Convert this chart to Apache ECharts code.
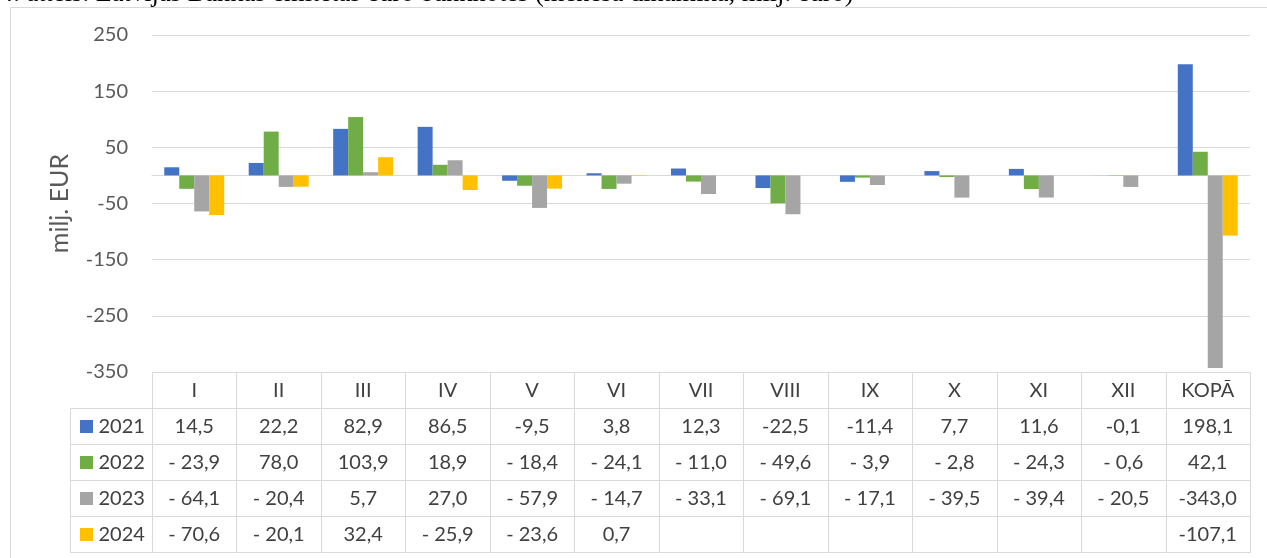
<!DOCTYPE html>
<html><head><meta charset="utf-8">
<script src="https://cdn.jsdelivr.net/npm/echarts/dist/echarts.min.js"></script>
<style>html,body{margin:0;padding:0;background:#fff;overflow:hidden}#c{width:1267px;height:558px}</style>
</head><body><div id="c"></div>
<script>
const categories = ['I','II','III','IV','V','VI','VII','VIII','IX','X','XI','XII','KOPĀ'];
const years = ['2021','2022','2023','2024'];
const colors = ['#4472C4','#70AD47','#A5A5A5','#FFC000'];
const v2021 = [14.5,22.2,82.9,86.5,-9.5,3.8,12.3,-22.5,-11.4,7.7,11.6,-0.1,198.1];
const v2022 = [-23.9,78.0,103.9,18.9,-18.4,-24.1,-11.0,-49.6,-3.9,-2.8,-24.3,-0.6,42.1];
const v2023 = [-64.1,-20.4,5.7,27.0,-57.9,-14.7,-33.1,-69.1,-17.1,-39.5,-39.4,-20.5,-343.0];
const v2024 = [-70.6,-20.1,32.4,-25.9,-23.6,0.7,null,null,null,null,null,null,-107.1];
const yMin = -350, yMax = 250, yStep = 100;
const titleText = '4. attēls. Latvijas Bankas emitētās euro banknotes (mēneša dinamika, milj. euro)';
const yName = 'milj. EUR';

const seriesValues = [v2021, v2022, v2023, v2024];
const FONT = 'Lato';
const TXT = '#404040';
const LINE = '#D9D9D9';

function fmt(v, spaced) {
  if (v == null) return '';
  const s = Math.abs(v).toFixed(1).replace('.', ',');
  return v < 0 ? (spaced ? '- ' : '-') + s : s;
}
function cellText(c, r) {
  if (r === 0) return categories[c];
  const yi = r - 1;
  const spaced = yi > 0 && c < categories.length - 1;
  return fmt(seriesValues[yi][c], spaced);
}

const tableData = [];
for (let r = 0; r <= years.length; r++)
  for (let c = 0; c < categories.length; c++) tableData.push([c, r]);
const legendData = years.map((y, i) => [0, i]);

const chart = echarts.init(document.getElementById('c'), null, {renderer: 'canvas'});
const GL = 152, GR = 17;
chart.setOption({
  animation: false,
  textStyle: {fontFamily: FONT},
  graphic: [
    {type: 'rect', silent: true, shape: {x: 10.5, y: 7.5, width: 1400, height: 800},
     style: {fill: null, stroke: LINE, lineWidth: 1}},
    {type: 'text', silent: true, x: 0, y: 8,
     style: {text: titleText, font: '26.5px "Liberation Serif"', fill: '#000', verticalAlign: 'bottom', align: 'left'}}
  ],
  grid: [
    {left: GL, right: GR, top: 35, height: 337},
    {left: GL, right: GR, top: 372, height: 180},
    {left: 70, width: GL - 70, top: 408, height: 144}
  ],
  xAxis: [
    {gridIndex: 0, type: 'category', data: categories,
     axisLine: {show: true, onZero: true, lineStyle: {color: LINE, width: 1}},
     axisTick: {show: false}, axisLabel: {show: false}, splitLine: {show: false}},
    {gridIndex: 1, type: 'category', data: categories, show: false},
    {gridIndex: 2, type: 'category', data: [''], show: false}
  ],
  yAxis: [
    {gridIndex: 0, type: 'value', min: yMin, max: yMax, interval: yStep,
     name: yName, nameLocation: 'middle', nameGap: 80,
     nameTextStyle: {fontSize: 25, color: '#595959', fontFamily: FONT},
     axisLine: {show: false}, axisTick: {show: false},
     axisLabel: {fontSize: 20, color: '#595959', margin: 24, fontFamily: FONT},
     splitLine: {show: true, lineStyle: {color: LINE, width: 1}}},
    {gridIndex: 1, type: 'category', data: ['', ...years], inverse: true, show: false},
    {gridIndex: 2, type: 'category', data: years, inverse: true, show: false}
  ],
  series: [
    ...years.map((y, i) => ({
      name: y, type: 'bar', xAxisIndex: 0, yAxisIndex: 0,
      data: seriesValues[i], barGap: 0, barCategoryGap: '29%',
      itemStyle: {color: colors[i]}
    })),
    {
      type: 'custom', xAxisIndex: 1, yAxisIndex: 1, data: tableData, silent: true,
      renderItem: function (params, api) {
        const c = api.value(0), r = api.value(1);
        const p = api.coord([c, r]);
        const s = api.size([1, 1]);
        const x0 = Math.round(p[0] - s[0] / 2) + 0.5, x1 = Math.round(p[0] + s[0] / 2) + 0.5;
        const y0 = Math.round(p[1] - s[1] / 2) + 0.5, y1 = Math.round(p[1] + s[1] / 2) + 0.5;
        return {type: 'group', children: [
          {type: 'rect', shape: {x: x0, y: y0, width: x1 - x0, height: y1 - y0},
           style: {fill: null, stroke: LINE, lineWidth: 1}},
          {type: 'text', style: {text: cellText(c, r), x: p[0], y: p[1] + 1,
           align: 'center', verticalAlign: 'middle', font: '20px ' + FONT, fill: TXT}}
        ]};
      }
    },
    {
      type: 'custom', xAxisIndex: 2, yAxisIndex: 2, data: legendData, silent: true,
      renderItem: function (params, api) {
        const r = api.value(1);
        const p = api.coord([0, r]);
        const s = api.size([1, 1]);
        const x0 = Math.round(p[0] - s[0] / 2) + 0.5, x1 = Math.round(p[0] + s[0] / 2) + 0.5;
        const y0 = Math.round(p[1] - s[1] / 2) + 0.5, y1 = Math.round(p[1] + s[1] / 2) + 0.5;
        return {type: 'group', children: [
          {type: 'rect', shape: {x: x0, y: y0, width: x1 - x0, height: y1 - y0},
           style: {fill: null, stroke: LINE, lineWidth: 1}},
          {type: 'rect', shape: {x: x0 + 9.5, y: Math.round(p[1]) - 6, width: 13, height: 13},
           style: {fill: colors[r]}},
          {type: 'text', style: {text: years[r], x: x0 + 28, y: p[1] + 1,
           align: 'left', verticalAlign: 'middle', font: '20px ' + FONT, fill: TXT}}
        ]};
      }
    }
  ]
});
</script></body></html>
